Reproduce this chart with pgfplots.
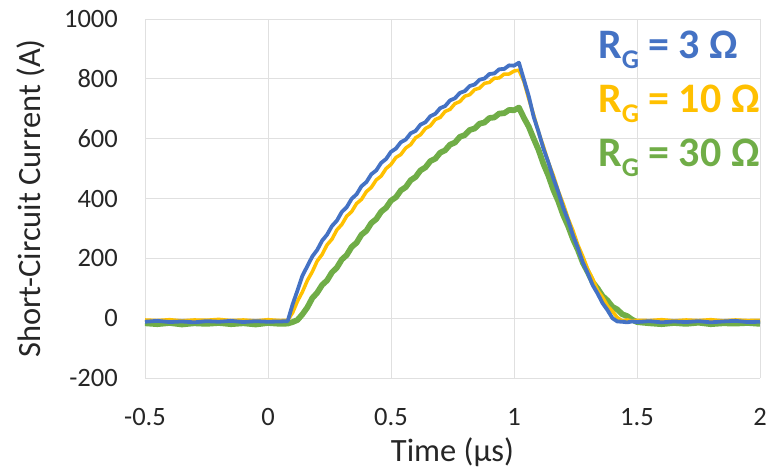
\documentclass[border=0pt]{standalone}
\usepackage{fontspec}
\setmainfont{Carlito}
\usepackage{pgfplots}
\usepackage{pgfplotstable}
\pgfplotsset{compat=1.18}

\definecolor{cB}{HTML}{4472C4}
\definecolor{cY}{HTML}{FFC000}
\definecolor{cG}{HTML}{70AD47}
\definecolor{txt}{HTML}{262626}

% time (us), short-circuit current (A) for R_G = 3, 10, 30 Ohm
\pgfplotstableread{
t     B    Y    G
-0.50 -12  -6  -17
-0.45  -9  -8  -20
-0.40 -13  -5  -16
-0.35 -11  -9  -21
-0.30 -14  -6  -17
-0.25 -10  -7  -19
-0.20 -12  -4  -16
-0.15  -9  -8  -20
-0.10 -13  -6  -17
-0.05 -10  -9  -21
0.00  -12  -5  -16
0.05  -11  -8  -19
0.08  -10  -7  -18
0.10   46  18  -13
0.12   93  57   -6
0.14  142  88   13
0.16  174 126   36
0.18  206 155   67
0.20  228 191   85
0.22  259 213  111
0.24  279 245  126
0.26  308 264  153
0.28  326 295  169
0.30  355 313  196
0.32  371 341  211
0.34  399 356  238
0.36  414 383  252
0.38  441 397  279
0.40  455 423  292
0.42  481 437  318
0.44  494 462  331
0.46  519 475  356
0.48  532 500  369
0.50  556 514  393
0.52  567 537  404
0.54  588 547  427
0.56  597 569  438
0.58  618 580  461
0.60  626 603  472
0.62  647 613  494
0.64  655 634  504
0.66  675 643  525
0.68  683 664  533
0.70  702 671  553
0.72  709 691  561
0.74  728 698  580
0.76  735 717  587
0.78  753 724  606
0.80  759 742  612
0.82  776 747  629
0.84  781 764  634
0.86  797 769  650
0.88  801 785  654
0.90  816 788  669
0.92  818 802  671
0.94  832 803  684
0.96  833 816  685
0.98  845 816  696
1.00  844 826  695
1.02  854 829  704
1.04  798 792  670
1.06  742 733  640
1.08  673 679  600
1.10  622 621  562
1.12  566 573  515
1.14  520 520  476
1.16  468 477  429
1.18  422 425  391
1.20  370 382  345
1.22  327 333  308
1.24  276 292  264
1.26  234 244  228
1.28  186 206  185
1.30  150 163  154
1.32  110 131  120
1.34   82  93   99
1.36   50  70   74
1.38   27  41   59
1.40    0  23   38
1.42  -11   2   29
1.44  -12  -9   13
1.46  -14  -6    7
1.48  -11  -9   -5
1.50  -13  -7  -13
1.55  -10  -8  -17
1.60  -14  -5  -20
1.65  -11  -9  -16
1.70  -13  -6  -19
1.75  -10  -8  -15
1.80  -14  -5  -20
1.85  -11  -9  -17
1.90   -9  -6  -18
1.95  -13  -8  -16
2.00  -12  -7  -19
}\sctable

\begin{document}
\begin{tikzpicture}
\begin{axis}[
  width=615pt, height=359pt, scale only axis,
  xmin=-0.5, xmax=2, ymin=-200, ymax=1000,
  xtick={-0.5,0,0.5,1,1.5,2},
  xticklabels={-0.5,0,0.5,1,1.5,2},
  ytick={-200,0,200,400,600,800,1000},
  yticklabels={-200,0,200,400,600,800,1000},
  axis line style={draw=none},
  major tick length=0pt,
  grid=major,
  grid style={color=black!12, line width=0.9pt},
  tick label style={font=\fontsize{26.5}{30}\selectfont, text=txt, inner sep=0pt},
  yticklabel style={anchor=east, xshift=-27pt},
  xticklabel style={anchor=north, yshift=-30pt},
  clip=false,
]
\addplot[cG, line width=5.8pt, line join=round] table[x=t, y=G] {\sctable};
\addplot[cY, line width=3.5pt, line join=round] table[x=t, y=Y] {\sctable};
\addplot[cB, line width=3.8pt, line join=round] table[x=t, y=B] {\sctable};

\node[rotate=90, anchor=base, inner sep=0pt, text=txt, font=\fontsize{32.5}{38}\selectfont]
  at (axis cs:-0.923,400) {Short-Circuit Current (A)};
\node[anchor=base, inner sep=0pt, text=txt, font=\fontsize{32.5}{38}\selectfont]
  at (axis cs:0.75,-478) {Time (µs)};

\node[anchor=base west, inner sep=0pt, text=cB, font=\fontsize{42}{50}\selectfont\bfseries]
  at (axis cs:1.3415,869.6) {R\raisebox{-10pt}{\fontsize{27}{32}\selectfont G} = 3 Ω};
\node[anchor=base west, inner sep=0pt, text=cY, font=\fontsize{42}{50}\selectfont\bfseries]
  at (axis cs:1.3415,689.1) {R\raisebox{-10pt}{\fontsize{27}{32}\selectfont G} = 10 Ω};
\node[anchor=base west, inner sep=0pt, text=cG, font=\fontsize{42}{50}\selectfont\bfseries]
  at (axis cs:1.3415,505.3) {R\raisebox{-10pt}{\fontsize{27}{32}\selectfont G} = 30 Ω};
\end{axis}
\pgfresetboundingbox
\path[use as bounding box] ([shift={(-145pt,-97pt)}]current axis.south west)
  rectangle ([shift={(13pt,19pt)}]current axis.north east);
\end{tikzpicture}
\end{document}
